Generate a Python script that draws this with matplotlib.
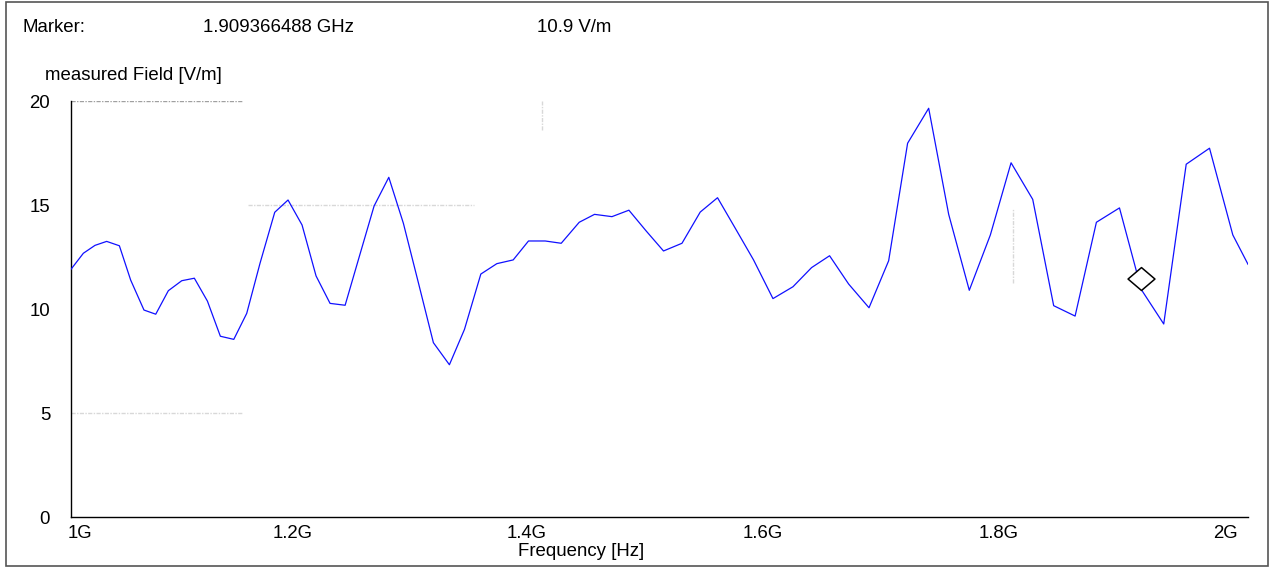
import matplotlib
matplotlib.use("Agg")
import matplotlib.pyplot as plt
from matplotlib.path import Path
from matplotlib.patches import Rectangle

plt.rcParams['font.family'] = ['Liberation Sans', 'DejaVu Sans']

# sweep (GHz, V/m)
freq_ghz = [1.0000, 1.0105, 1.0204, 1.0303, 1.0411, 1.0507, 1.0620, 1.0720, 1.0827, 1.0941,
            1.1048, 1.1159, 1.1269, 1.1383, 1.1493, 1.1606, 1.1731, 1.1844, 1.1963, 1.2082,
            1.2201, 1.2329, 1.2452, 1.2575, 1.2700, 1.2824, 1.2952, 1.3079, 1.3215, 1.3343,
            1.3482, 1.3618, 1.3757, 1.3887, 1.4029, 1.4165, 1.4318, 1.4448, 1.4596, 1.4740,
            1.4887, 1.5034, 1.5191, 1.5346, 1.5493, 1.5646, 1.5799, 1.5964, 1.6134, 1.6292,
            1.6445, 1.6607, 1.6780, 1.6947, 1.7108, 1.7287, 1.7457, 1.7632, 1.7811, 1.7987,
            1.8171, 1.8349, 1.8531, 1.8712, 1.8908, 1.9094, 1.9284, 1.9475, 1.9673, 1.9871,
            2.0000]
field = [11.91, 12.68, 13.06, 13.25, 13.04, 11.39, 9.95, 9.75, 10.88, 11.36,
         11.48, 10.38, 8.69, 8.54, 9.79, 12.20, 14.65, 15.24, 14.04, 11.59,
         10.27, 10.18, 12.57, 14.95, 16.33, 14.12, 11.25, 8.38, 7.32, 9.02,
         11.68, 12.18, 12.36, 13.27, 13.27, 13.16, 14.17, 14.55, 14.44, 14.75,
         13.75, 12.79, 13.16, 14.66, 15.35, 13.86, 12.36, 10.50, 11.07, 11.99,
         12.56, 11.20, 10.06, 12.32, 17.97, 19.65, 14.55, 10.90, 13.56, 17.03,
         15.27, 10.16, 9.66, 14.17, 14.86, 10.93, 9.28, 16.96, 17.73, 13.56,
         12.15]

marker_freq = 1.909366488e9
marker_val = 10.9

x_ticks = [1.0e9, 1.2e9, 1.4e9, 1.6e9, 1.8e9, 2.0e9]
x_labels = ['1G', '1.2G', '1.4G', '1.6G', '1.8G', '2G']
y_ticks = [0, 5, 10, 15, 20]

# the analyser only draws bits of its grid
grid_h = [(20, 1.000e9, 1.146e9), (15, 1.150e9, 1.342e9), (5, 1.000e9, 1.146e9)]
grid_v = [(1.4e9, 18.6, 20.0), (1.8e9, 11.25, 14.86)]

FS = 13.4
W, H = 1271, 568
fig = plt.figure(figsize=(W / 100, H / 100), dpi=100)
ax = fig.add_axes([71 / W, 1 - 517 / H, (1248 - 71) / W, (517 - 101) / H])

freqs = [f * 1e9 for f in freq_ghz]
ax.plot(freqs, field, color='#1010ff', lw=0.9, zorder=3)

for i, (y, x0, x1) in enumerate(grid_h):
    col = '#a0a0a0' if i == 0 else '#d8d8d8'
    ax.plot([x0, x1], [y, y], color=col, lw=1.0, ls=(0, (3, 1, 1, 1)), zorder=1)
for x, y0, y1 in grid_v:
    ax.plot([x, x], [y0, y1], color='#d8d8d8', lw=1.0, ls=(0, (3, 1, 1, 1)), zorder=1)

# diamond with its bottom corner on the marker point
diamond = Path([(0, 0), (13.5, 11.5), (0, 23), (-13.5, 11.5), (0, 0)], closed=True)
ax.plot([marker_freq], [marker_val], marker=diamond, ms=33, mfc='white', mec='black',
        mew=1.1, ls='none', zorder=4)

ax.set_xlim(1.0e9, 2.0e9)
ax.set_ylim(0, 20)
ax.spines['top'].set_visible(False)
ax.spines['right'].set_visible(False)
for s in ('left', 'bottom'):
    ax.spines[s].set_linewidth(1.0)
    ax.spines[s].set_color('black')

ax.set_yticks(y_ticks)
ax.set_yticklabels([str(v) for v in y_ticks], fontsize=FS)
ax.tick_params(axis='y', length=0, pad=15)
ax.set_xticks(x_ticks)
ax.set_xticklabels([])
ax.tick_params(axis='x', length=0)

label_shift = [9, -14, -15, -14, -14, -23]
for x, lab, dx in zip(x_ticks, x_labels, label_shift):
    ax.annotate(lab, xy=(x, 0), xytext=(dx, -17), textcoords='offset pixels',
                ha='center', va='center', fontsize=FS, annotation_clip=False)

fig.text(581 / W, 1 - 552 / H, 'Frequency [Hz]', ha='center', va='center', fontsize=FS)
fig.text(45 / W, 1 - 76 / H, 'measured Field [V/m]', ha='left', va='center', fontsize=FS)

fig.text(22 / W, 1 - 27 / H, 'Marker:', ha='left', va='center', fontsize=FS)
fig.text(203 / W, 1 - 27 / H, f'{marker_freq / 1e9:.9f} GHz', ha='left', va='center', fontsize=FS)
fig.text(537 / W, 1 - 27 / H, f'{marker_val} V/m', ha='left', va='center', fontsize=FS)

fig.patches.append(Rectangle((6 / W, 2 / H), (1268 - 6) / W, (566 - 2) / H,
                             transform=fig.transFigure, fill=False,
                             edgecolor='#555555', lw=1.2))

fig.savefig('out.png', dpi=100)
